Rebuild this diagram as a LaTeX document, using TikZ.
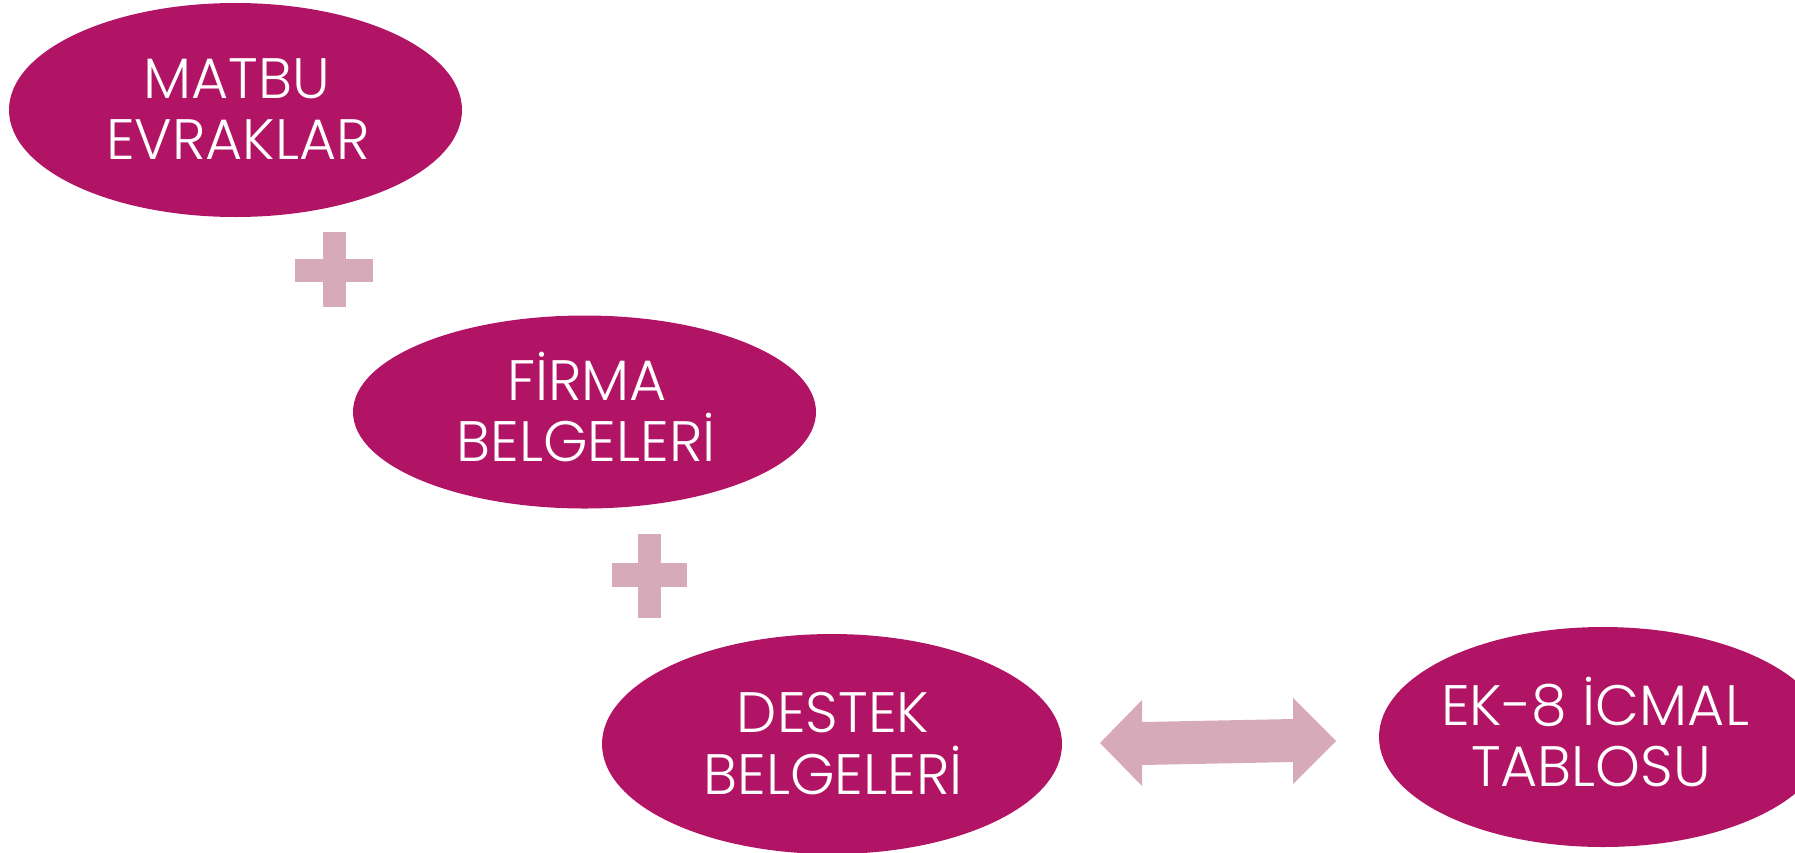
\documentclass[tikz,border=0pt]{standalone}
\usepackage{fontspec}
\setmainfont{Poppins Light}
\usetikzlibrary{shapes.geometric}
\definecolor{blobc}{HTML}{B21465}
\definecolor{plusc}{HTML}{D7AAB9}
\begin{document}
\begin{tikzpicture}[x=1pt,y=-1pt,
  blob/.style={ellipse, fill=blobc, draw=none, inner sep=0pt},
  lbl/.style={anchor=base, text=white, inner sep=0pt, font=\fontsize{57}{62}\selectfont},
  plusmark/.style={fill=plusc, draw=none},
  dblarrow/.style={fill=plusc, draw=none}]
\useasboundingbox (0,0) rectangle (1795,852);
% ellipses
\node[blob, minimum width=453pt, minimum height=214pt] (matbu) at (235.5,110) {};
\node[blob, minimum width=463pt, minimum height=193pt] (firma) at (584.5,412) {};
\node[blob, minimum width=460pt, minimum height=220pt] (destek) at (832,744) {};
\node[blob, minimum width=448pt, minimum height=220pt] (icmal) at (1603,737) {};
% labels
\node[lbl] (matbu1) at (237,98.5) {MATBU};
\node[lbl] (matbu2) at (238,159) {EVRAKLAR};
\node[lbl] (firma1) at (587,400) {FİRMA};
\node[lbl] (firma2) at (586,461) {BELGELERİ};
\node[lbl] (destek1) at (833,732) {DESTEK};
\node[lbl] (destek2) at (833,794) {BELGELERİ};
\node[lbl] (icmal1) at (1595,725) {EK-8 İCMAL};
\node[lbl] (icmal2) at (1591,786) {TABLOSU};
% plus signs
\fill[plusmark] (323,232) rectangle (346,307);
\fill[plusmark] (295,259) rectangle (373,282);
\fill[plusmark] (638,534) rectangle (661,618);
\fill[plusmark] (612,563) rectangle (687,587);
% double arrow
\fill[dblarrow] (1100,743) -- (1142,700) -- (1142,722) -- (1293,719) -- (1293,698)
  -- (1336,741) -- (1293,784) -- (1293,762) -- (1142,765) -- (1142,786) -- cycle;
\end{tikzpicture}
\end{document}
